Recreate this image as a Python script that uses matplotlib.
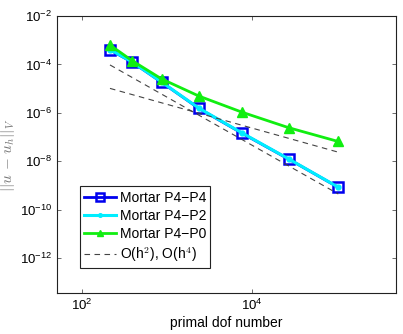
import matplotlib
matplotlib.use("Agg")
import matplotlib.pyplot as plt

plt.rcParams['font.family'] = ['Liberation Sans', 'DejaVu Sans']
plt.rcParams['mathtext.fontset'] = 'cm'

# primal dof numbers for each refinement
dofs = [215, 393, 869, 2380, 7670, 27100, 102800]

# errors ||u - u_h||_V
err_p4p4 = [3.98e-4, 1.23e-4, 1.82e-5, 1.51e-6, 1.41e-7, 1.20e-8, 8.3e-10]
err_p4p2 = [4.10e-4, 1.25e-4, 1.85e-5, 1.55e-6, 1.45e-7, 1.22e-8, 8.4e-10]
err_p4p0 = [6.3e-4, 1.41e-4, 2.5e-5, 4.9e-6, 1.05e-6, 2.4e-7, 6.5e-8]

# reference slopes (end points)
ref_x = [215, 103000]
ref_h4 = [9.5e-5, 4.4e-10]
ref_h2 = [1.02e-5, 2.35e-8]

fig = plt.figure(figsize=(4.03, 3.34), dpi=100)
ax = fig.add_axes([0.1407, 0.1228, 0.8419, 0.8292])

ax.loglog(dofs, err_p4p4, '-s', color='#0000ee', lw=2, ms=7, mew=1.8,
          mfc='none', mec='#0000ee', label='Mortar P4\u2212P4')
ax.loglog(dofs, err_p4p2, '-o', color='#00eeff', lw=2.2, ms=3.5,
          mfc='#00eeff', mec='#00eeff', label='Mortar P4\u2212P2')
ax.loglog(dofs, err_p4p0, '-^', color='#11ee11', lw=2, ms=6.5,
          mfc='#11ee11', mec='#11ee11', label='Mortar P4\u2212P0')
ax.loglog(ref_x, ref_h4, '--', color='#444444', lw=0.8, dashes=(5, 4),
          label='O(h$^2$), O(h$^4$)')
ax.loglog(ref_x, ref_h2, '--', color='#444444', lw=0.8, dashes=(5, 4))

ax.set_xlim(10**1.707, 10**5.69)
ax.set_ylim(10**-13.45, 1e-2)
ax.set_xticks([1e2, 1e4])
ax.set_yticks([1e-12, 1e-10, 1e-8, 1e-6, 1e-4, 1e-2])
ax.minorticks_off()
ax.tick_params(direction='in', top=True, right=True, labelsize=9.5,
               length=3, width=0.6, color='#555555')
for s in ax.spines.values():
    s.set_linewidth(0.8)
    s.set_color('#222222')

ax.set_xlabel('primal dof number', fontsize=10, labelpad=2)
ax.set_ylabel(r'$||u\,-\,u_h||_V$', fontsize=11, color='#777777', labelpad=2)

leg = ax.legend(loc='lower left', bbox_to_anchor=(0.069, 0.091),
                borderaxespad=0, fontsize=10, fancybox=False,
                edgecolor='#222222', framealpha=1, handlelength=2.3,
                labelspacing=0.3, borderpad=0.3, handletextpad=0.25,
                markerscale=0.75)
leg.get_frame().set_linewidth(0.8)

fig.savefig('out.png', dpi=100)
